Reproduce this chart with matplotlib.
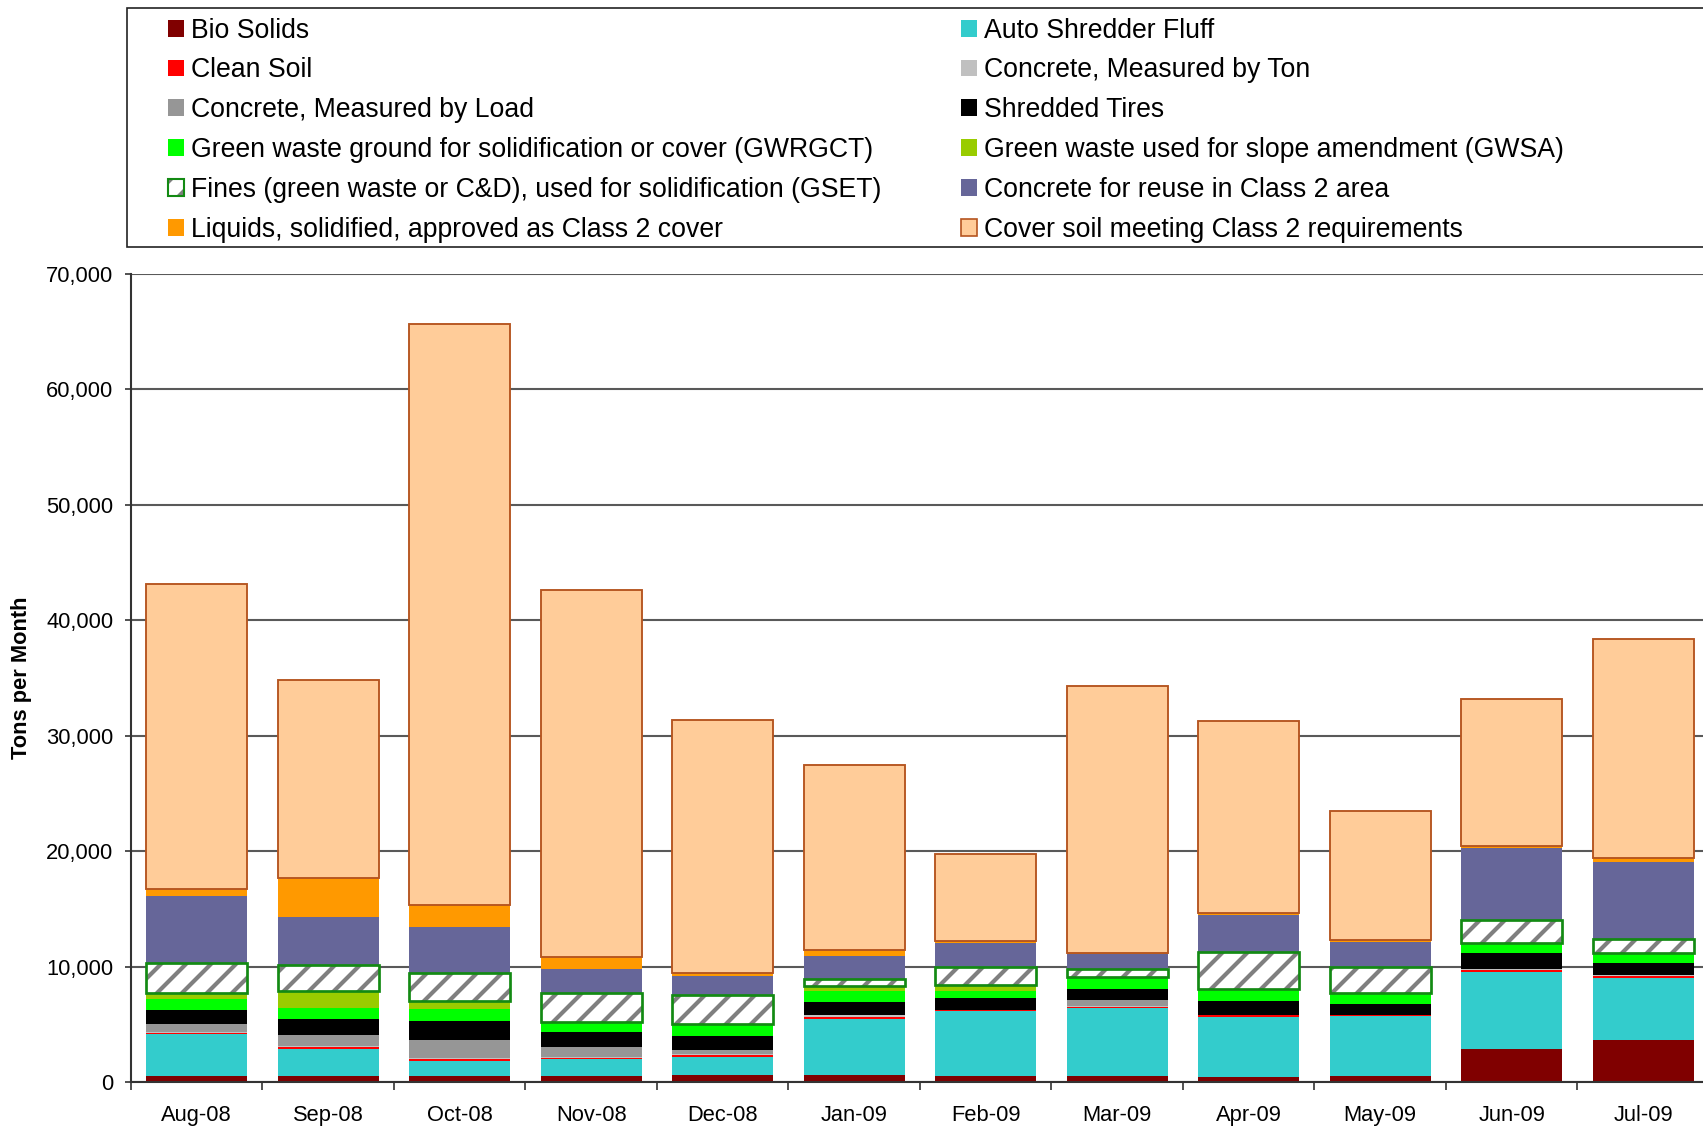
import matplotlib
matplotlib.use("Agg")
import matplotlib.pyplot as plt
import numpy as np
from matplotlib.patches import Patch, Rectangle
from matplotlib.legend_handler import HandlerTuple
from matplotlib.ticker import FuncFormatter, FixedLocator

plt.rcParams['font.family'] = ['Liberation Sans', 'DejaVu Sans']
plt.rcParams['hatch.linewidth'] = 2.0

# monthly tonnage by material, Aug 2008 - Jul 2009
months = ['Aug-08', 'Sep-08', 'Oct-08', 'Nov-08', 'Dec-08', 'Jan-09',
          'Feb-09', 'Mar-09', 'Apr-09', 'May-09', 'Jun-09', 'Jul-09']

bio_solids     = [550, 550, 550, 550, 630, 630, 550, 550, 460, 550, 2900, 3680]
auto_fluff     = [3600, 2350, 1330, 1450, 1600, 4870, 5620, 5880, 5190, 5150, 6650, 5390]
clean_soil     = [120, 120, 120, 100, 100, 120, 100, 130, 150, 100, 130, 100]
concrete_ton   = [50, 100, 80, 80, 100, 200, 0, 80, 0, 0, 150, 150]
concrete_load  = [700, 1000, 1600, 900, 400, 0, 0, 520, 0, 0, 0, 0]
shredded_tires = [1200, 1400, 1650, 1300, 1150, 1150, 1050, 950, 1250, 1000, 1330, 1050]
gwrgct         = [950, 950, 1050, 870, 1050, 950, 600, 1020, 1050, 930, 870, 800]
gwsa           = [580, 1400, 650, 0, 0, 430, 520, 0, 0, 0, 0, 0]
fines_gset     = [2600, 2300, 2450, 2440, 2550, 580, 1540, 640, 3180, 2260, 2020, 1270]
concrete_reuse = [5750, 4100, 3950, 2090, 1600, 2030, 2050, 1300, 3190, 2140, 6200, 6670]
liquids        = [600, 3450, 1950, 1100, 300, 500, 200, 100, 200, 150, 200, 300]
cover_soil     = [26400, 17080, 50280, 31720, 21920, 16040, 7520, 23130, 16630, 11220, 12750, 18990]

series = [
    ('Bio Solids', bio_solids, '#800000'),
    ('Auto Shredder Fluff', auto_fluff, '#33CCCC'),
    ('Clean Soil', clean_soil, '#FF0000'),
    ('Concrete, Measured by Ton', concrete_ton, '#C0C0C0'),
    ('Concrete, Measured by Load', concrete_load, '#969696'),
    ('Shredded Tires', shredded_tires, '#000000'),
    ('Green waste ground for solidification or cover (GWRGCT)', gwrgct, '#00FF00'),
    ('Green waste used for slope amendment (GWSA)', gwsa, '#99CC00'),
    ('Fines (green waste or C&D), used for solidification (GSET)', fines_gset, None),
    ('Concrete for reuse in Class 2 area', concrete_reuse, '#666699'),
    ('Liquids, solidified, approved as Class 2 cover', liquids, '#FF9900'),
    ('Cover soil meeting Class 2 requirements', cover_soil, '#FFCC99'),
]

W, H = 1703, 1130
fig = plt.figure(figsize=(W / 150, H / 150), dpi=150)
ax = fig.add_axes([130.9 / W, 47.7 / H, 1578 / W, 808.5 / H])

x = np.arange(len(months))
width = 0.77
bottom = np.zeros(len(months))
handles = []
for label, vals, color in series:
    vals = np.array(vals, dtype=float)
    if color is None:
        # hatched fill plus a separate green outline
        ax.bar(x, vals, width, bottom=bottom, color='white', hatch='//',
               edgecolor='#7f7f7f', linewidth=0, zorder=2)
        ax.bar(x, vals, width, bottom=bottom, fill=False,
               edgecolor='#138a13', linewidth=1.3, zorder=3)
        h = (Patch(facecolor='white', hatch='//', edgecolor='#7f7f7f', linewidth=0),
             Patch(fill=False, edgecolor='#138a13', linewidth=1.0))
    elif label.startswith('Cover soil'):
        ax.bar(x, vals, width, bottom=bottom, color=color,
               edgecolor='#B5541F', linewidth=0.9, zorder=2)
        h = Patch(facecolor=color, edgecolor='#B5541F', linewidth=0.8)
    else:
        ax.bar(x, vals, width, bottom=bottom, color=color, linewidth=0, zorder=2)
        h = Patch(facecolor=color, linewidth=0)
    handles.append((h, label))
    bottom += vals

ax.set_xlim(-0.5, len(months) - 0.5)
ax.set_ylim(0, 70000)
ax.set_yticks(np.arange(0, 70001, 10000))
ax.yaxis.set_major_formatter(FuncFormatter(lambda v, p: f'{int(v):,}'))
ax.xaxis.set_major_locator(FixedLocator(np.arange(-0.5, len(months), 1.0)))
ax.xaxis.set_major_formatter(FuncFormatter(lambda v, p: ''))
ax.xaxis.set_minor_locator(FixedLocator(x))
ax.set_xticklabels(months, minor=True)
ax.tick_params(axis='x', which='major', length=3.7, width=0.8, color='#333333')
ax.tick_params(axis='x', which='minor', length=0, pad=11, labelsize=10.5)
ax.tick_params(axis='y', length=2.9, width=0.8, color='#333333', pad=5.5, labelsize=10.5)

ax.grid(axis='y', color='#595959', linewidth=1.0)
ax.set_axisbelow(True)
for s in ('top', 'right'):
    ax.spines[s].set_visible(False)
for s in ('left', 'bottom'):
    ax.spines[s].set_color('#333333')
    ax.spines[s].set_linewidth(1.0)

fig.text(22 / W, 1 - 678 / H, 'Tons per Month', rotation=90, fontsize=10.5,
         fontweight='bold', ha='center', va='center')

# legend box and its two columns
fig.patches.append(Rectangle((127 / W, 1 - 246.6 / H), 1.0, (246.6 - 7.6) / H,
                             transform=fig.transFigure, facecolor='white',
                             edgecolor='#222222', linewidth=0.8))
left_col = handles[0::2]
right_col = handles[1::2]
for col, x0 in ((left_col, 168), (right_col, 961)):
    leg = fig.legend([h for h, _ in col], [l for _, l in col],
                     loc='upper left', bbox_to_anchor=(x0 / W, 1 - 17.5 / H),
                     frameon=False, fontsize=12.8, borderpad=0, borderaxespad=0,
                     handlelength=0.6, handleheight=0.6, handletextpad=0.25,
                     labelspacing=0.52,
                     handler_map={tuple: HandlerTuple(ndivide=1)})

fig.savefig('out.png', dpi=150)
